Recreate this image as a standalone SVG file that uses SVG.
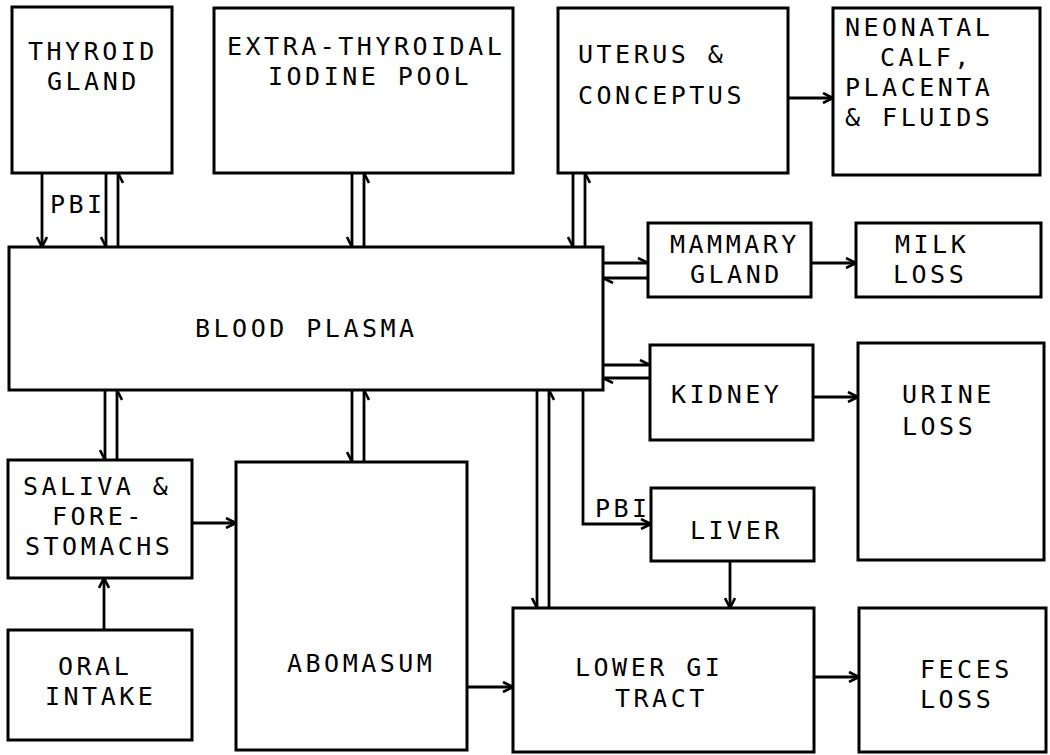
<svg xmlns="http://www.w3.org/2000/svg" width="1050" height="755" viewBox="0 0 1050 755">
<defs>
<style>
.box{fill:none;stroke:#000;stroke-width:3}
.c line,.c polyline{fill:none;stroke:#000;stroke-width:2.8}
.t{font-family:"DejaVu Sans Mono","Liberation Mono",monospace;font-size:25px;letter-spacing:3.5px;fill:#000}
</style>
<marker id="full" viewBox="0 0 12 12" refX="11" refY="6" markerWidth="12" markerHeight="12" markerUnits="userSpaceOnUse" orient="auto"><path d="M1,1 L11,6 L1,11" fill="none" stroke="#000" stroke-width="2.6"/></marker>
<marker id="halfA" viewBox="0 0 12 12" refX="11" refY="6" markerWidth="12" markerHeight="12" markerUnits="userSpaceOnUse" orient="auto"><path d="M1,11 L11,6" fill="none" stroke="#000" stroke-width="2.6"/></marker>
<marker id="halfB" viewBox="0 0 12 12" refX="11" refY="6" markerWidth="12" markerHeight="12" markerUnits="userSpaceOnUse" orient="auto"><path d="M1,1 L11,6" fill="none" stroke="#000" stroke-width="2.6"/></marker>
</defs>
<rect width="1050" height="755" fill="#fff"/>

<g id="thyroid"><rect class="box" x="12" y="7" width="160" height="166"/><text class="t" x="28" y="60">THYROID</text><text class="t" x="47" y="90">GLAND</text></g>
<g id="extra"><rect class="box" x="214" y="8" width="299" height="165"/><text class="t" x="227" y="55">EXTRA-THYROIDAL</text><text class="t" x="268" y="85">IODINE POOL</text></g>
<g id="uterus"><rect class="box" x="558" y="8" width="230" height="165"/><text class="t" x="578" y="63">UTERUS &amp;</text><text class="t" x="578" y="104">CONCEPTUS</text></g>
<g id="neonatal"><rect class="box" x="833" y="8" width="207" height="167"/><text class="t" x="845" y="36">NEONATAL</text><text class="t" x="880" y="66">CALF,</text><text class="t" x="845" y="96">PLACENTA</text><text class="t" x="845" y="126">&amp; FLUIDS</text></g>
<g id="plasma"><rect class="box" x="9" y="247" width="594" height="143"/><text class="t" x="195" y="337">BLOOD PLASMA</text></g>
<g id="mammary"><rect class="box" x="648" y="223" width="163" height="74"/><text class="t" x="670" y="253">MAMMARY</text><text class="t" x="690" y="283">GLAND</text></g>
<g id="milk"><rect class="box" x="856" y="223" width="185" height="74"/><text class="t" x="895" y="253">MILK</text><text class="t" x="893" y="283">LOSS</text></g>
<g id="kidney"><rect class="box" x="650" y="345" width="163" height="95"/><text class="t" x="671" y="403">KIDNEY</text></g>
<g id="urine"><rect class="box" x="858" y="343" width="186" height="217"/><text class="t" x="902" y="403">URINE</text><text class="t" x="902" y="435">LOSS</text></g>
<g id="liver"><rect class="box" x="651" y="488" width="163" height="73"/><text class="t" x="690" y="539">LIVER</text></g>
<g id="saliva"><rect class="box" x="8" y="460" width="184" height="118"/><text class="t" x="23" y="495">SALIVA &amp;</text><text class="t" x="52" y="525">FORE-</text><text class="t" x="25" y="555">STOMACHS</text></g>
<g id="oral"><rect class="box" x="8" y="630" width="184" height="110"/><text class="t" x="58" y="675">ORAL</text><text class="t" x="45" y="705">INTAKE</text></g>
<g id="abomasum"><rect class="box" x="236" y="462" width="231" height="288"/><text class="t" x="287" y="672">ABOMASUM</text></g>
<g id="lowergi"><rect class="box" x="513" y="608" width="301" height="144"/><text class="t" x="575" y="676">LOWER GI</text><text class="t" x="615" y="707">TRACT</text></g>
<g id="feces"><rect class="box" x="859" y="608" width="187" height="144"/><text class="t" x="920" y="678">FECES</text><text class="t" x="920" y="708">LOSS</text></g>

<g id="connectors" class="c">
<line x1="42" y1="173" x2="42" y2="247" marker-end="url(#full)"/>
<text class="t" x="50" y="213">PBI</text>
<line x1="106" y1="173" x2="106" y2="247" marker-end="url(#halfA)"/>
<line x1="118" y1="247" x2="118" y2="173" marker-end="url(#halfA)"/>
<line x1="352" y1="173" x2="352" y2="247" marker-end="url(#halfA)"/>
<line x1="364" y1="247" x2="364" y2="173" marker-end="url(#halfA)"/>
<line x1="573" y1="173" x2="573" y2="247" marker-end="url(#halfA)"/>
<line x1="585" y1="247" x2="585" y2="173" marker-end="url(#halfA)"/>
<line x1="788" y1="98" x2="833" y2="98" marker-end="url(#full)"/>
<line x1="603" y1="263" x2="648" y2="263" marker-end="url(#halfB)"/>
<line x1="648" y1="278" x2="603" y2="278" marker-end="url(#halfB)"/>
<line x1="811" y1="263" x2="856" y2="263" marker-end="url(#full)"/>
<line x1="603" y1="365" x2="650" y2="365" marker-end="url(#halfB)"/>
<line x1="650" y1="378" x2="603" y2="378" marker-end="url(#halfB)"/>
<line x1="813" y1="397" x2="858" y2="397" marker-end="url(#full)"/>
<polyline points="583,390 583,524 651,524" marker-end="url(#full)"/>
<text class="t" x="595" y="517">PBI</text>
<line x1="730" y1="561" x2="730" y2="608" marker-end="url(#full)"/>
<line x1="537" y1="390" x2="537" y2="608" marker-end="url(#halfA)"/>
<line x1="549" y1="608" x2="549" y2="390" marker-end="url(#halfA)"/>
<line x1="105" y1="390" x2="105" y2="460" marker-end="url(#halfA)"/>
<line x1="117" y1="460" x2="117" y2="390" marker-end="url(#halfA)"/>
<line x1="352" y1="390" x2="352" y2="462" marker-end="url(#halfA)"/>
<line x1="364" y1="462" x2="364" y2="390" marker-end="url(#halfA)"/>
<line x1="192" y1="523" x2="236" y2="523" marker-end="url(#full)"/>
<line x1="104" y1="630" x2="104" y2="578" marker-end="url(#full)"/>
<line x1="467" y1="687" x2="513" y2="687" marker-end="url(#full)"/>
<line x1="814" y1="677" x2="859" y2="677" marker-end="url(#full)"/>
</g>
</svg>
